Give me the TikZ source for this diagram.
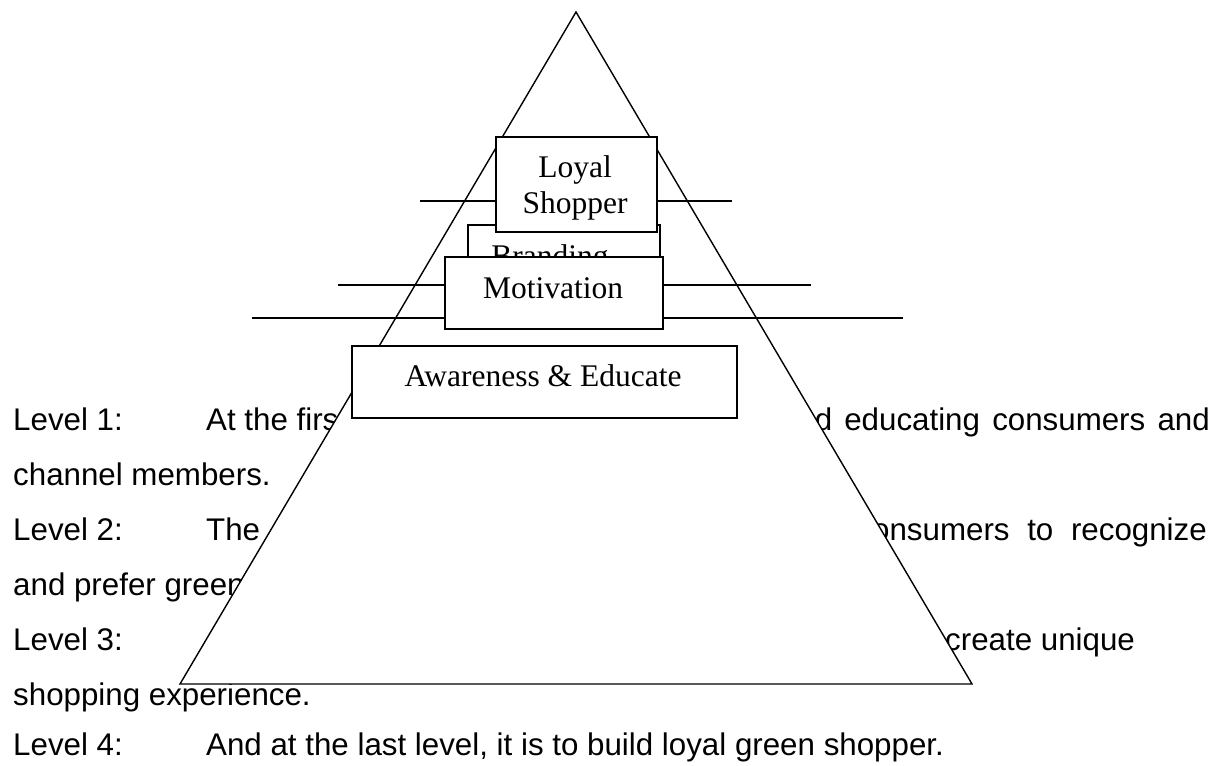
\documentclass[tikz,border=0pt]{standalone}
\usepackage{fontspec}
\setmainfont{Liberation Sans}
\newfontfamily\boxfont{Liberation Serif}
\begin{document}
\begin{tikzpicture}[x=1pt,y=-1pt,
  body/.style={inner sep=0pt, anchor=base west, font=\fontsize{31.3}{36}\selectfont},
  bodyr/.style={body, anchor=base east},
  stagebox/.style={draw, line width=1.6pt, fill=white, inner sep=0pt},
  stagetext/.style={inner sep=0pt, anchor=base, font=\boxfont\fontsize{31.5}{36}\selectfont},
  guide/.style={line width=1.5pt},
]
\fill[white] (0,0) rectangle (1222,765);
\useasboundingbox (0,0) rectangle (1222,765);

% paragraph text behind the pyramid (justified lines keep slightly wider spaces)
\node[body] (l1) at (13,430) {Level 1:};
\node[body] (l1a) at (206,430) {At the first};
\node[bodyr] (l1b) at (1210,430) {\spaceskip=12.2pt and educating consumers and};
\node[body] (l1c) at (13,485) {channel members.};
\node[body] (l2) at (13,540) {Level 2:};
\node[body] (l2a) at (206,540) {The};
\node[bodyr] (l2b) at (1207,540) {\spaceskip=17.7pt consumers to recognize};
\node[body] (l2c) at (13,595) {and prefer green};
\node[body] (l3) at (13,650) {Level 3:};
\node[body] (l3b) at (945,650) {create unique};
\node[body] (l3c) at (13,705) {shopping experience.};
\node[body] (l4) at (13,755) {Level 4:};
\node[body] (l4a) at (206,755) {And at the last level, it is to build loyal green shopper.};

% the pyramid
\coordinate (apex) at (576,12);
\coordinate (bl) at (180,684);
\coordinate (br) at (972,684);
\filldraw[fill=white, line width=1.4pt] (apex) -- (bl) -- (br) -- cycle;

% level guide lines
\coordinate (g1l) at (420,201); \coordinate (g1r) at (732,201);
\coordinate (g2l) at (338,285); \coordinate (g2r) at (811,285);
\coordinate (g3l) at (252,318); \coordinate (g3r) at (903,318);
\draw[guide] (g1l) -- (g1r);
\draw[guide] (g2l) -- (g2r);
\draw[guide] (g3l) -- (g3r);

% stage boxes
\node[stagebox, minimum width=192pt, minimum height=76pt] (brandbox) at (564,263) {};
\node[stagetext] (brand) at (550,266) {Branding};
\node[stagebox, minimum width=161pt, minimum height=95pt] (loyalbox) at (576.5,184.5) {};
\node[stagetext] (loyal1) at (575,177) {Loyal};
\node[stagetext] (loyal2) at (575,213) {Shopper};
\node[stagebox, minimum width=218pt, minimum height=72pt] (motbox) at (554,293) {};
\node[stagetext] (mot) at (553,298) {Motivation};
\node[stagebox, minimum width=385pt, minimum height=72pt] (awbox) at (544.5,382) {};
\node[stagetext] (aw) at (543,386) {Awareness \& Educate};
\end{tikzpicture}
\end{document}
